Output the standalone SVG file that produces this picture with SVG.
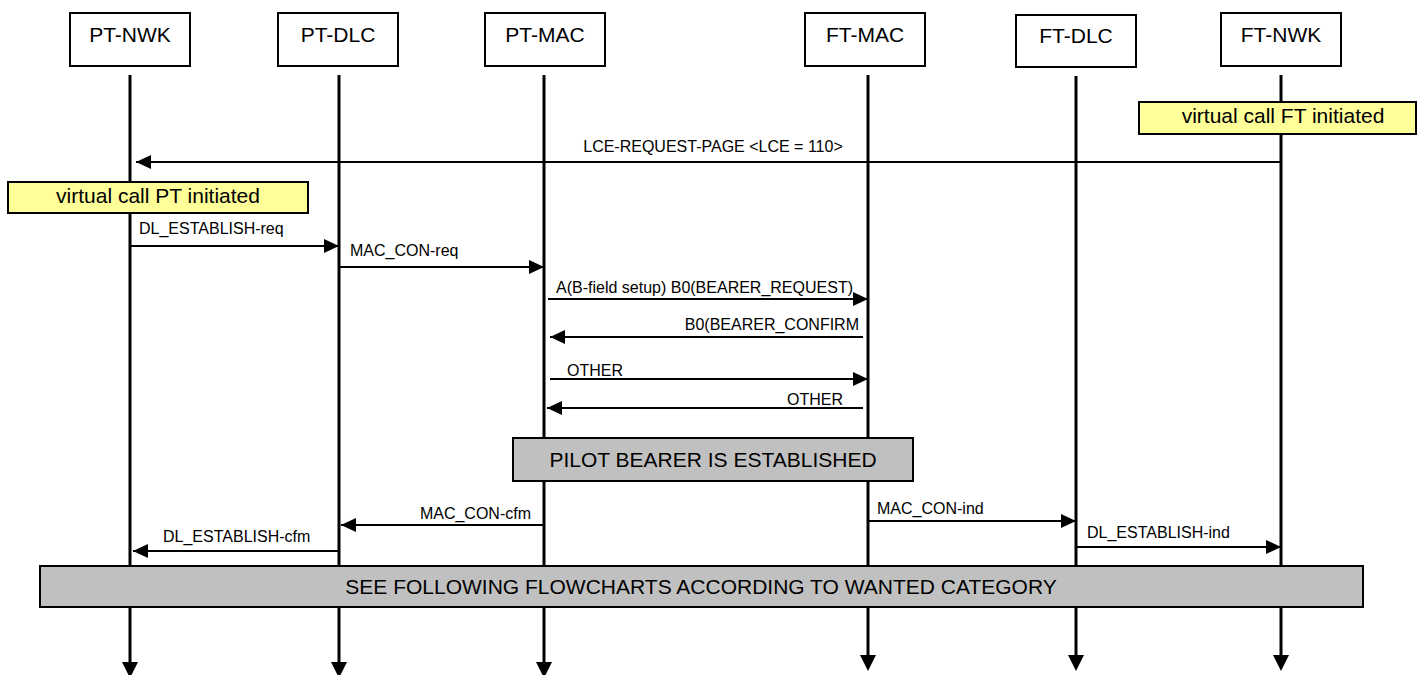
<svg xmlns="http://www.w3.org/2000/svg" width="1417" height="675" viewBox="0 0 1417 675">
<style>
.hdr{fill:#fff;stroke:#000;stroke-width:2}
.ht{font-family:"Liberation Sans",Arial,sans-serif;font-size:21px;text-anchor:middle;fill:#000}
.life{stroke:#000;stroke-width:3;fill:none}
.msg{stroke:#000;stroke-width:2;fill:none;marker-end:url(#ah)}
.mt{font-family:"Liberation Sans",Arial,sans-serif;font-size:16px;fill:#000}
.end{text-anchor:end}
.note{fill:#ffff99;stroke:#000;stroke-width:2}
.band{fill:#c0c0c0;stroke:#000;stroke-width:2}
.ah{fill:#000}
</style>
<defs>
<marker id="ah" viewBox="0 0 15 14" markerWidth="15" markerHeight="14" refX="15" refY="7" orient="auto" markerUnits="userSpaceOnUse">
<path d="M0,0 L15,7 L0,14 z" fill="#000"/>
</marker>
</defs>
<rect width="1417" height="675" fill="#fff"/>

<g id="lifelines">
<line class="life" x1="130" y1="75" x2="130" y2="663"/>
<polygon class="ah" points="122,662 138,662 130,678"/>
<line class="life" x1="339" y1="75" x2="339" y2="663"/>
<polygon class="ah" points="331,662 347,662 339,678"/>
<line class="life" x1="544" y1="75" x2="544" y2="663"/>
<polygon class="ah" points="536,662 552,662 544,678"/>
<line class="life" x1="868" y1="75" x2="868" y2="656"/>
<polygon class="ah" points="860,655 876,655 868,671"/>
<line class="life" x1="1076" y1="76" x2="1076" y2="656"/>
<polygon class="ah" points="1068,655 1084,655 1076,671"/>
<line class="life" x1="1281" y1="75" x2="1281" y2="656"/>
<polygon class="ah" points="1273,655 1289,655 1281,671"/>
</g>

<g id="PT-NWK"><rect class="hdr" x="70" y="13" width="120" height="53"/><text class="ht" x="130" y="42">PT-NWK</text></g>
<g id="PT-DLC"><rect class="hdr" x="278" y="13" width="120" height="53"/><text class="ht" x="338" y="42">PT-DLC</text></g>
<g id="PT-MAC"><rect class="hdr" x="485" y="13" width="120" height="53"/><text class="ht" x="545" y="42">PT-MAC</text></g>
<g id="FT-MAC"><rect class="hdr" x="805" y="13" width="120" height="53"/><text class="ht" x="865" y="42">FT-MAC</text></g>
<g id="FT-DLC"><rect class="hdr" x="1016" y="15" width="120" height="52"/><text class="ht" x="1076" y="43">FT-DLC</text></g>
<g id="FT-NWK"><rect class="hdr" x="1221" y="13" width="120" height="53"/><text class="ht" x="1281" y="42">FT-NWK</text></g>

<g id="connectors">
<line class="msg" x1="1281" y1="162" x2="136" y2="162"/>
<line class="msg" x1="131" y1="246" x2="339" y2="246"/>
<line class="msg" x1="339" y1="267" x2="544" y2="267"/>
<line class="msg" x1="548" y1="299" x2="868" y2="299"/>
<line class="msg" x1="863" y1="337" x2="550" y2="337"/>
<line class="msg" x1="550" y1="379" x2="868" y2="379"/>
<line class="msg" x1="863" y1="408" x2="547" y2="408"/>
<line class="msg" x1="545" y1="525" x2="341" y2="525"/>
<line class="msg" x1="338" y1="551" x2="133" y2="551"/>
<line class="msg" x1="868" y1="521" x2="1076" y2="521"/>
<line class="msg" x1="1076" y1="547" x2="1281" y2="547"/>
</g>

<g id="labels">
<text class="mt" x="713" y="152" text-anchor="middle">LCE-REQUEST-PAGE &lt;LCE = 110&gt;</text>
<text class="mt" x="139" y="234">DL_ESTABLISH-req</text>
<text class="mt" x="350" y="256">MAC_CON-req</text>
<text class="mt" x="556" y="293">A(B-field setup) B0(BEARER_REQUEST)</text>
<text class="mt end" x="859" y="330">B0(BEARER_CONFIRM</text>
<text class="mt" x="567" y="376">OTHER</text>
<text class="mt end" x="843" y="405">OTHER</text>
<text class="mt end" x="531" y="519">MAC_CON-cfm</text>
<text class="mt" x="163" y="542">DL_ESTABLISH-cfm</text>
<text class="mt" x="877" y="514">MAC_CON-ind</text>
<text class="mt" x="1087" y="538">DL_ESTABLISH-ind</text>
</g>

<g id="note-FT"><rect class="note" x="1139" y="102" width="277" height="32"/><text class="ht" x="1283" y="123">virtual call FT initiated</text></g>
<g id="note-PT"><rect class="note" x="8" y="182" width="300" height="31"/><text class="ht" x="158" y="203">virtual call PT initiated</text></g>
<g id="pilot"><rect class="band" x="513" y="438" width="400" height="43"/><text class="ht" x="713" y="467">PILOT BEARER IS ESTABLISHED</text></g>
<g id="see-following"><rect class="band" x="40" y="566" width="1323" height="41"/><text class="ht" x="701" y="594">SEE FOLLOWING FLOWCHARTS ACCORDING TO WANTED CATEGORY</text></g>
</svg>
